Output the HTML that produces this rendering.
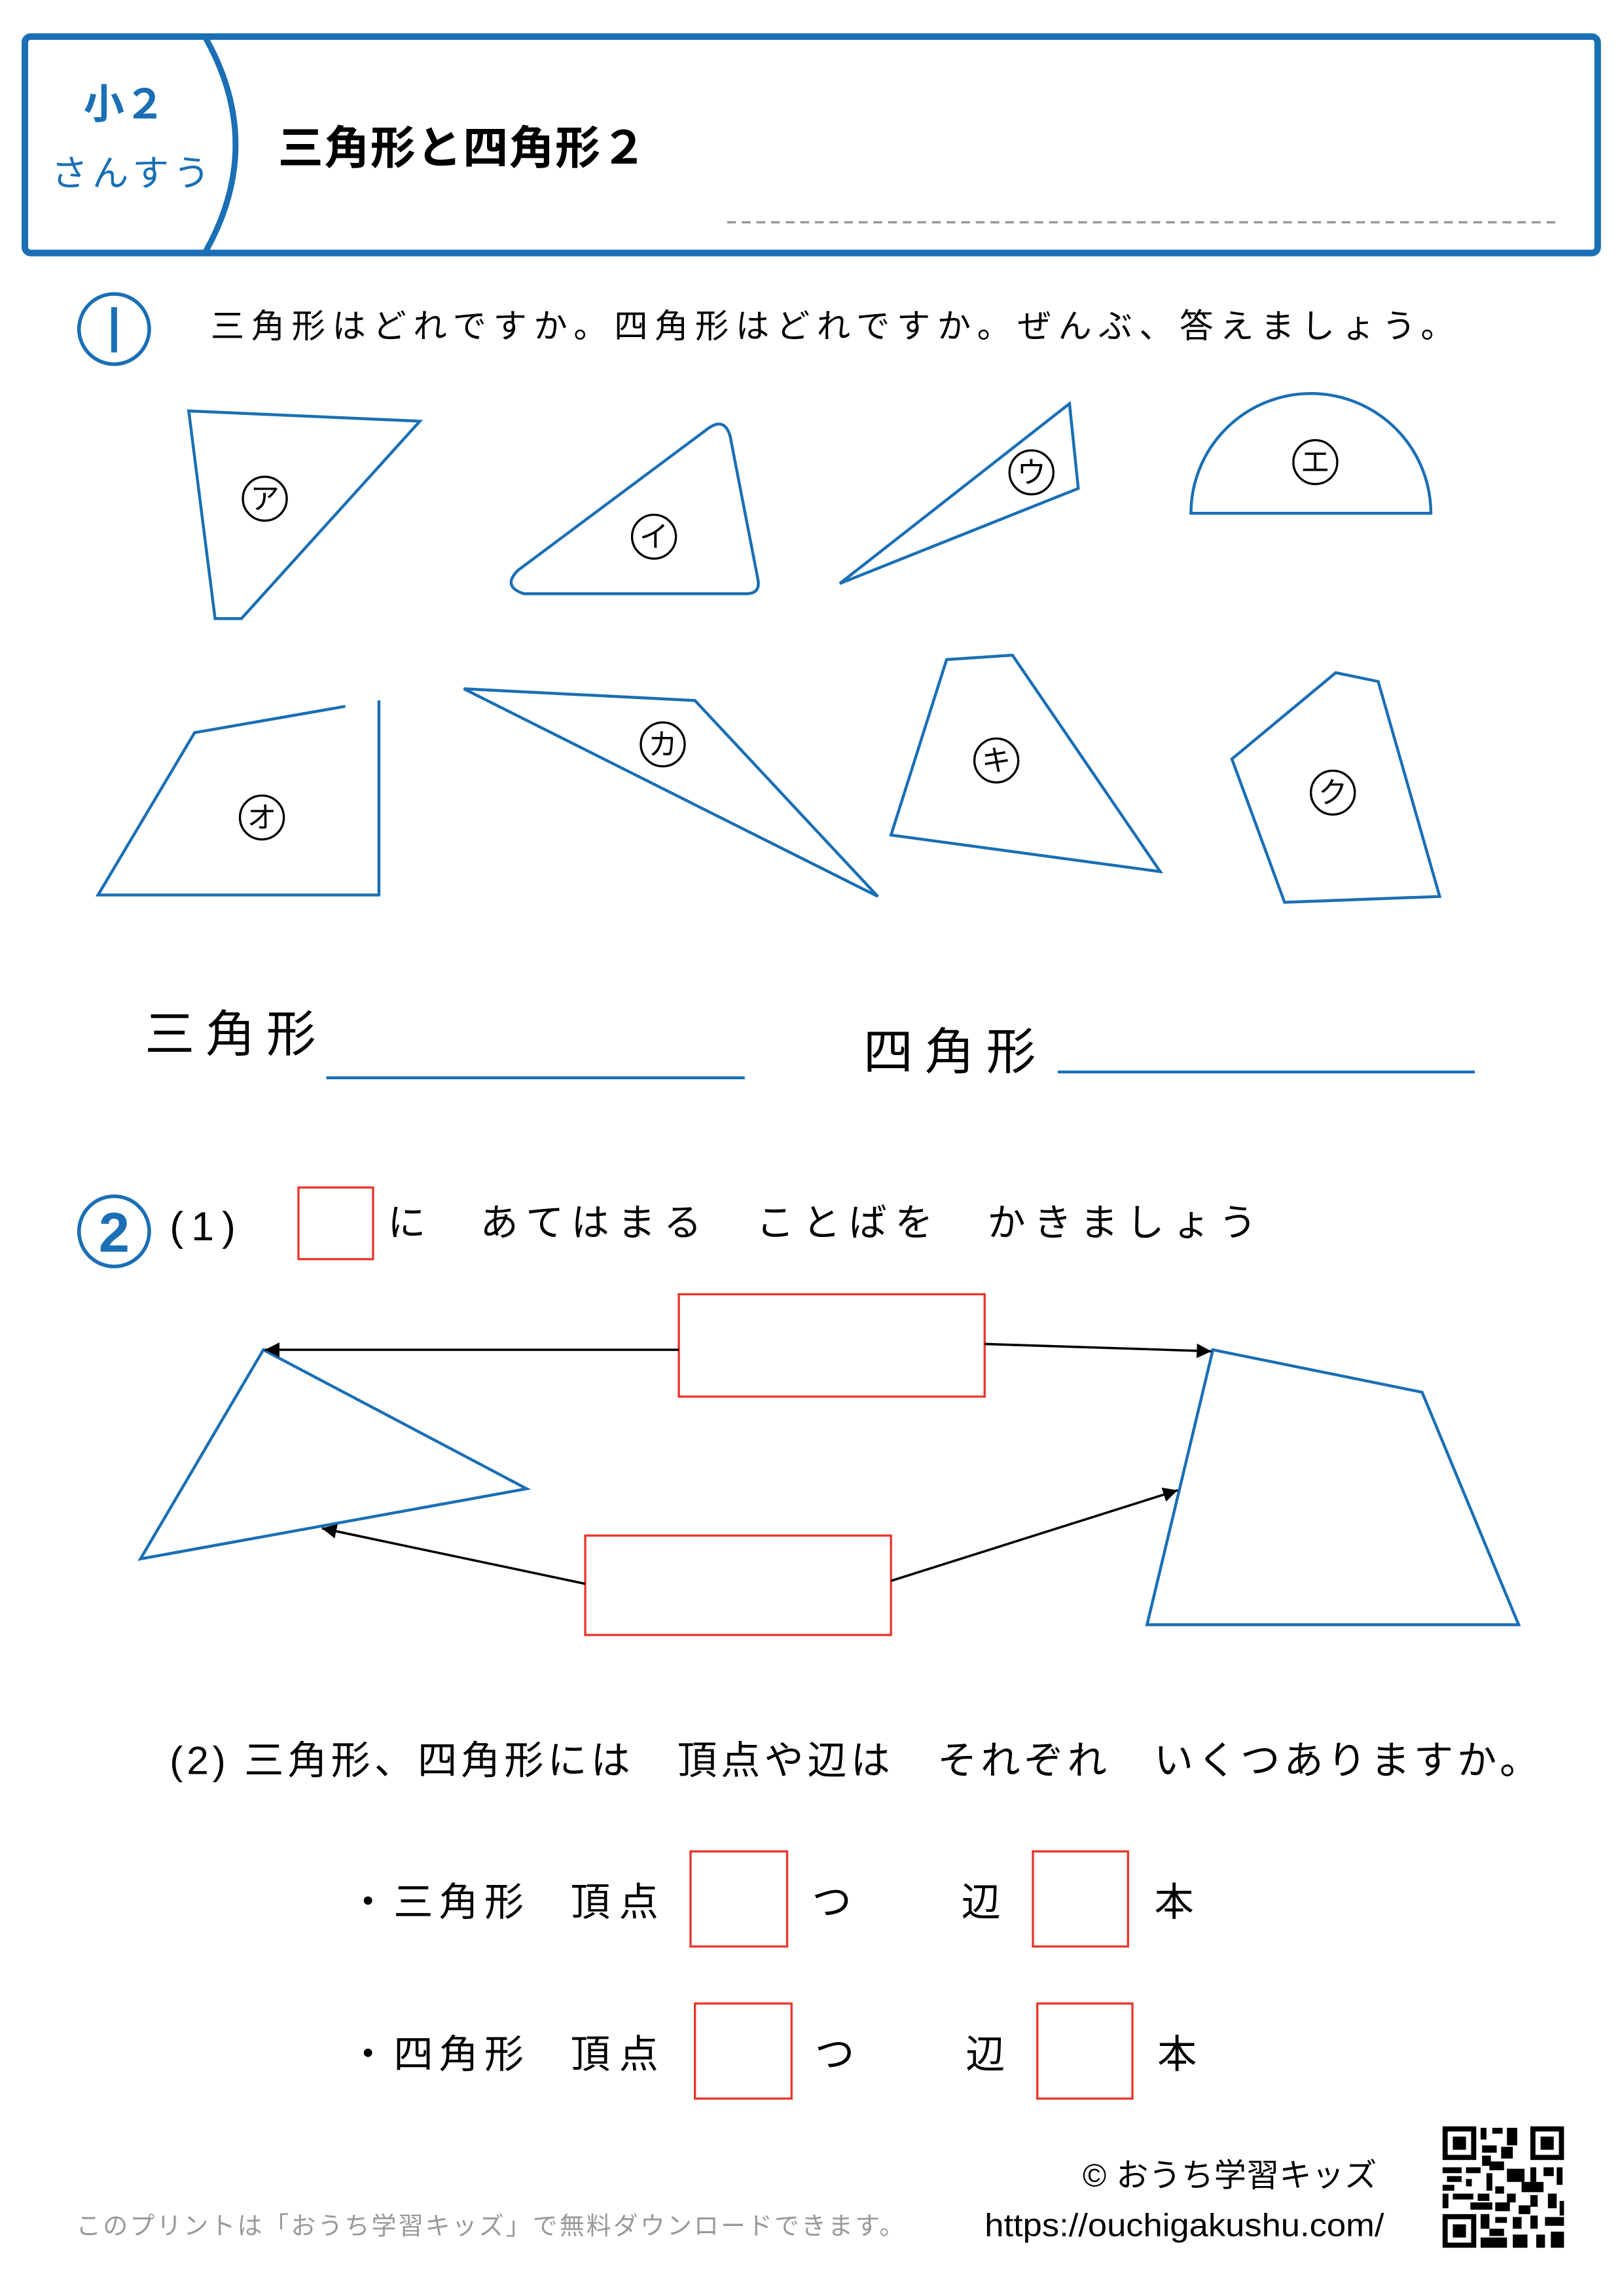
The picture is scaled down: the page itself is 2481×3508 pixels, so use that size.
<!DOCTYPE html>
<html><head><meta charset="utf-8">
<style>
html,body{margin:0;padding:0;background:#fff;}
svg{display:block;}
text{font-family:"Liberation Sans","Noto Sans CJK JP",sans-serif;}
</style></head>
<body>
<svg width="2481" height="3508" viewBox="0 0 1110 1570" preserveAspectRatio="none" xmlns="http://www.w3.org/2000/svg">
<defs>
<marker id="ah" viewBox="0 0 10 10" refX="10" refY="5" markerWidth="20" markerHeight="10" orient="auto" markerUnits="userSpaceOnUse">
<path d="M0,0 L10,5 L0,10 z" fill="#000"/></marker>
</defs>
<rect width="1110" height="1570" fill="#fff"/>
<!-- header -->
<rect x="17" y="25" width="1075" height="148" rx="4" fill="none" stroke="#1a6fb5" stroke-width="4.5"/>
<path d="M140,25 Q182,99 140,173" fill="none" stroke="#1a6fb5" stroke-width="4"/>
<text x="57" y="81" font-size="28" font-weight="bold" fill="#1a6fb5">小２</text>
<text x="35" y="127" font-size="25" fill="#1a6fb5" letter-spacing="3">さんすう</text>
<text x="190" y="112" font-size="31" font-weight="bold" fill="#000" textLength="252" lengthAdjust="spacing">三角形と四角形２</text>
<line x1="497" y1="152" x2="1066" y2="152" stroke="#999" stroke-width="1.6" stroke-dasharray="6,4"/>

<!-- section 1 -->
<circle cx="78" cy="225" r="24" fill="none" stroke="#1a6fb5" stroke-width="2.5"/>
<line x1="78" y1="210" x2="78" y2="241" stroke="#1a6fb5" stroke-width="4"/>
<text x="144" y="231" font-size="23" fill="#000" textLength="850" lengthAdjust="spacing">三角形はどれですか。四角形はどれですか。ぜんぶ、答えましょう。</text>

<g fill="none" stroke="#1a6fb5" stroke-width="2">
<polygon points="129,281 287,288 165,423 147,423"/>
<path d="M358,406 L510,406 Q520,406 518,396 L499,298 Q495,285 484,293 L354,390 Q343,401 358,406 Z"/>
<polygon points="574,399 731,276 737,334"/>
<path d="M814,351 A82,82 0 0 1 978,351 Z"/>
<polyline points="236,483 133,501 67,612 259,612 259,479"/>
<polygon points="317,471 475,479 600,613"/>
<polygon points="647,451 692,448 793,596 609,571"/>
<polygon points="842,519 913,460 942,466 984,613 878,617"/>
<path d="M96,1066 L180,923 L360,1018 Z"/>
<polygon points="829,923 972,952 1038,1111 784,1111"/>
</g>
<g fill="none" stroke="#000" stroke-width="1.5">
<circle cx="181" cy="341" r="15"/><circle cx="447" cy="367" r="15"/>
<circle cx="705" cy="323" r="15"/><circle cx="899" cy="316" r="15"/>
<circle cx="179" cy="559" r="15"/><circle cx="453" cy="509" r="15"/>
<circle cx="681" cy="520" r="15"/><circle cx="911" cy="542" r="15"/>
</g>
<g font-size="20" text-anchor="middle" fill="#000">
<text x="181" y="348">ア</text><text x="447" y="374">イ</text>
<text x="705" y="330">ウ</text><text x="899" y="323">エ</text>
<text x="179" y="566">オ</text><text x="453" y="516">カ</text>
<text x="681" y="527">キ</text><text x="911" y="549">ク</text>
</g>

<text x="99" y="719" font-size="34" fill="#000" textLength="117" lengthAdjust="spacing">三角形</text>
<line x1="223" y1="737" x2="509" y2="737" stroke="#1a6fb5" stroke-width="2"/>
<text x="590" y="731" font-size="34" fill="#000" textLength="118" lengthAdjust="spacing">四角形</text>
<line x1="723" y1="733" x2="1008" y2="733" stroke="#1a6fb5" stroke-width="2"/>

<!-- section 2 -->
<circle cx="78" cy="842" r="24" fill="none" stroke="#1a6fb5" stroke-width="2.5"/>
<text x="78" y="856" font-size="38" font-weight="bold" fill="#1a6fb5" text-anchor="middle">2</text>
<text x="116" y="848" font-size="28" fill="#000" textLength="45" lengthAdjust="spacing">(1)</text>
<rect x="204" y="812" width="51" height="49" fill="none" stroke="#e8372c" stroke-width="1.5"/>
<text x="265" y="845" font-size="26" fill="#000" textLength="594" lengthAdjust="spacing">に　あてはまる　ことばを　かきましょう</text>

<rect x="464" y="885" width="209" height="70" fill="none" stroke="#e8372c" stroke-width="1.5"/>
<rect x="400" y="1050" width="209" height="68" fill="none" stroke="#e8372c" stroke-width="1.5"/>
<g stroke="#000" stroke-width="1.6" marker-end="url(#ah)">
<line x1="464" y1="923" x2="181" y2="923"/>
<line x1="673" y1="919" x2="828" y2="924"/>
<line x1="400" y1="1083" x2="220" y2="1045"/>
<line x1="609" y1="1081" x2="805" y2="1019"/>
</g>

<text x="116" y="1213" font-size="27" fill="#000" textLength="936" lengthAdjust="spacing">(2) 三角形、四角形には　頂点や辺は　それぞれ　いくつありますか。</text>

<g font-size="27" fill="#000">
<text x="238" y="1310" textLength="120" lengthAdjust="spacing">・三角形</text>
<text x="390" y="1310" textLength="60" lengthAdjust="spacing">頂点</text>
<text x="555" y="1310">つ</text>
<text x="657" y="1310">辺</text>
<text x="789" y="1310">本</text>
<text x="238" y="1414" textLength="120" lengthAdjust="spacing">・四角形</text>
<text x="390" y="1414" textLength="60" lengthAdjust="spacing">頂点</text>
<text x="557" y="1414">つ</text>
<text x="660" y="1414">辺</text>
<text x="791" y="1414">本</text>
</g>
<g fill="none" stroke="#e8372c" stroke-width="1.5">
<rect x="472" y="1266" width="66" height="65"/>
<rect x="706" y="1266" width="65" height="65"/>
<rect x="475" y="1370" width="66" height="65"/>
<rect x="709" y="1370" width="65" height="65"/>
</g>

<!-- footer -->
<text x="740" y="1495" font-size="22" fill="#000" textLength="201" lengthAdjust="spacing">© おうち学習キッズ</text>
<text x="673" y="1529" font-size="22" fill="#000" textLength="273" lengthAdjust="spacingAndGlyphs">https://ouchigakushu.com/</text>
<text x="52" y="1528" font-size="17" fill="#999" textLength="566" lengthAdjust="spacing">このプリントは「おうち学習キッズ」で無料ダウンロードできます。</text>

<!-- QR approximation -->
<g fill="#000">
<rect x="986" y="1454" width="23" height="23"/><rect x="989.5" y="1457.5" width="16" height="16" fill="#fff"/><rect x="993" y="1461" width="9" height="9"/>
<rect x="1046" y="1454" width="23" height="23"/><rect x="1049.5" y="1457.5" width="16" height="16" fill="#fff"/><rect x="1053" y="1461" width="9" height="9"/>
<rect x="986" y="1514" width="23" height="23"/><rect x="989.5" y="1517.5" width="16" height="16" fill="#fff"/><rect x="993" y="1521" width="9" height="9"/>
<rect x="1012" y="1455" width="4" height="8"/><rect x="1020" y="1455" width="7" height="4"/><rect x="1030" y="1455" width="7" height="12"/>
<rect x="1013" y="1467" width="10" height="5"/><rect x="1026" y="1468" width="8" height="8"/><rect x="1013" y="1474" width="6" height="7"/>
<rect x="1018" y="1478" width="10" height="6"/><rect x="986" y="1482" width="13" height="4"/><rect x="1002" y="1482" width="10" height="4"/>
<rect x="1030" y="1483" width="12" height="9"/><rect x="1046" y="1482" width="4" height="10"/><rect x="1055" y="1482" width="7" height="6"/><rect x="1064" y="1482" width="4" height="12"/>
<rect x="989" y="1488" width="10" height="4"/><rect x="1002" y="1490" width="4" height="5"/><rect x="1016" y="1486" width="4" height="12"/>
<rect x="986" y="1494" width="8" height="4"/><rect x="1040" y="1492" width="15" height="7"/><rect x="1022" y="1495" width="6" height="5"/>
<rect x="986" y="1500" width="4" height="10"/><rect x="993" y="1500" width="14" height="4"/><rect x="1010" y="1500" width="8" height="5"/>
<rect x="1030" y="1500" width="6" height="6"/><rect x="1046" y="1501" width="5" height="8"/><rect x="1058" y="1500" width="6" height="10"/>
<rect x="1005" y="1506" width="15" height="5"/><rect x="1022" y="1506" width="10" height="6"/><rect x="1038" y="1508" width="8" height="6"/><rect x="1066" y="1505" width="3" height="10"/>
<rect x="1012" y="1514" width="6" height="10"/><rect x="1022" y="1516" width="8" height="4"/><rect x="1034" y="1516" width="6" height="8"/>
<rect x="1046" y="1515" width="5" height="9"/><rect x="1056" y="1516" width="13" height="6"/><rect x="1018" y="1524" width="10" height="5"/>
<rect x="1012" y="1530" width="18" height="7"/><rect x="1034" y="1528" width="10" height="9"/><rect x="1050" y="1528" width="6" height="9"/><rect x="1060" y="1526" width="9" height="11"/>
</g>
</svg>
</body></html>
